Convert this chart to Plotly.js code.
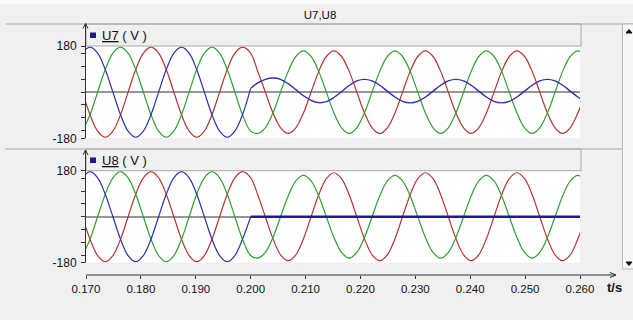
<!DOCTYPE html>
<html>
<head>
<meta charset="utf-8">
<script src="https://cdn.plot.ly/plotly-3.0.1.min.js"></script>
<style>
  html, body { margin: 0; padding: 0; background: #f0f0f0; }
  #chart { width: 633px; height: 320px; }
</style>
</head>
<body>
<div id="chart"></div>
<script>
// ---- data (time in s, voltage in V) ----
const t = [0.16934, 0.17073, 0.17212, 0.17351, 0.17490, 0.17629, 0.17767, 0.17906, 0.18045, 0.18184,
  0.18323, 0.18462, 0.18601, 0.18740, 0.18879, 0.19017, 0.19156, 0.19295, 0.19434, 0.19573,
  0.19712, 0.19851, 0.20000, 0.20129, 0.20267, 0.20406, 0.20545, 0.20684, 0.20823, 0.20962,
  0.21101, 0.21240, 0.21379, 0.21517, 0.21656, 0.21795, 0.21934, 0.22073, 0.22212, 0.22351,
  0.22490, 0.22629, 0.22767, 0.22906, 0.23045, 0.23184, 0.23323, 0.23462, 0.23601, 0.23740,
  0.23879, 0.24017, 0.24156, 0.24295, 0.24434, 0.24573, 0.24712, 0.24851, 0.24990, 0.25129,
  0.25267, 0.25406, 0.25545, 0.25684, 0.25823, 0.25962, 0.26101];

const faultIndex = 22; // sample at t = 0.200 s

// U7 panel
const u7Blue = [152, 176, 152, 88, 0, -88, -152, -176, -152, -88, 0, 88, 152, 176, 152, 88, 0, -88, -152, -176, -152, -88, 15,
  36, 50, 55, 50, 33, 10, -14, -32, -41, -37, -21, 2, 26, 44, 50, 44, 27, 4, -19, -36,
  -42, -36, -19, 4, 27, 44, 50, 44, 27, 4, -19, -36, -42, -36, -19, 4, 27, 44, 50, 44, 27, 4, -19, -36];
const u7Red = [0, -88, -152, -176, -152, -88, 0, 88, 152, 176, 152, 88, 0, -88, -152, -176, -152, -88, 0, 88, 152, 176, 152,
  81, 0, -81, -139, -161, -139, -81, 0, 81, 139, 161, 139,
  81, 0, -81, -139, -161, -139, -81, 0, 81, 139, 161, 139,
  81, 0, -81, -139, -161, -139, -81, 0, 81, 139, 161, 139,
  81, 0, -81, -139, -161, -139, -81, 0];
const u7Green = [-152, -88, 0, 88, 152, 176, 152, 88, 0, -88, -152, -176, -152, -88, 0, 88, 152, 176, 152, 88, 0, -88, -152,
  -161, -139, -81, 0, 81, 139, 161, 139, 81, 0, -81, -139,
  -161, -139, -81, 0, 81, 139, 161, 139, 81, 0, -81, -139,
  -161, -139, -81, 0, 81, 139, 161, 139, 81, 0, -81, -139,
  -161, -139, -81, 0, 81, 139, 161, 139];

// U8 panel
const u8Blue = [152, 176, 152, 88, 0, -88, -152, -176, -152, -88, 0, 88, 152, 176, 152, 88, 0, -88, -152, -176, -152, -88, 0,
  0, 0, 0, 0, 0, 0, 0, 0, 0, 0, 0, 0, 0, 0, 0, 0, 0, 0, 0, 0, 0, 0,
  0, 0, 0, 0, 0, 0, 0, 0, 0, 0, 0, 0, 0, 0, 0, 0, 0, 0, 0, 0, 0, 0];
const u8Red = [0, -88, -152, -176, -152, -88, 0, 88, 152, 176, 152, 88, 0, -88, -152, -176, -152, -88, 0, 88, 152, 176, 152,
  86, 0, -86, -149, -172, -149, -86, 0, 86, 149, 172, 149,
  86, 0, -86, -149, -172, -149, -86, 0, 86, 149, 172, 149,
  86, 0, -86, -149, -172, -149, -86, 0, 86, 149, 172, 149,
  86, 0, -86, -149, -172, -149, -86, 0];
const u8Green = [-152, -88, 0, 88, 152, 176, 152, 88, 0, -88, -152, -176, -152, -88, 0, 88, 152, 176, 152, 88, 0, -88, -152,
  -162, -140, -81, 0, 81, 140, 162, 140, 81, 0, -81, -140,
  -162, -140, -81, 0, 81, 140, 162, 140, 81, 0, -81, -140,
  -162, -140, -81, 0, 81, 140, 162, 140, 81, 0, -81, -140,
  -162, -140, -81, 0, 81, 140, 162, 140];

const xTicks = [0.170, 0.180, 0.190, 0.200, 0.210, 0.220, 0.230, 0.240, 0.250, 0.260];
const xTickText = ['0.170', '0.180', '0.190', '0.200', '0.210', '0.220', '0.230', '0.240', '0.250', '0.260'];
const yTicks = [-180, -150, -100, -50, 0, 50, 100, 150, 180];
const yTickText = ['-180', '', '', '', '', '', '', '', '180'];

// ---- styling ----
const RED = '#b83232', GREEN = '#2ea02e', BLUE = '#2f2fb4', NAVY = '#1c1c8c';
const FONT = 'Liberation Sans, Arial, sans-serif';

function line(x, y, yaxis, color, width) {
  return { x: x, y: y, xaxis: 'x', yaxis: yaxis, type: 'scatter', mode: 'lines',
    line: { color: color, width: width, shape: 'spline', smoothing: 1 }, hoverinfo: 'skip' };
}

const traces = [
  line(t, u7Red, 'y', RED, 1.2),
  line(t, u7Green, 'y', GREEN, 1.2),
  line(t.slice(0, faultIndex + 1), u7Blue.slice(0, faultIndex + 1), 'y', BLUE, 1.2),
  line(t.slice(faultIndex), u7Blue.slice(faultIndex), 'y', BLUE, 1.4),
  line(t, u8Red, 'y2', RED, 1.2),
  line(t, u8Green, 'y2', GREEN, 1.2),
  line(t.slice(0, faultIndex + 1), u8Blue.slice(0, faultIndex + 1), 'y2', BLUE, 1.2),
  line(t.slice(faultIndex), u8Blue.slice(faultIndex), 'y2', NAVY, 2.4)
];

// layout geometry (pixels)
const L = 86, T = 46, W = 494, H = 229;
const px = x => (x - L) / W;
const py = y => (T + H - y) / H;

const GRAY = '#a8a8a8', AX = '#333333';
function seg(x0, y0, x1, y1, color, width) {
  return { type: 'line', xref: 'paper', yref: 'paper', x0: px(x0), y0: py(y0), x1: px(x1), y1: py(y1),
    line: { color: color, width: width } };
}
function box(x0, y0, x1, y1, fill, lineColor, width) {
  return { type: 'rect', xref: 'paper', yref: 'paper', x0: px(x0), y0: py(y0), x1: px(x1), y1: py(y1),
    fillcolor: fill, line: { color: lineColor, width: width } };
}
function path(points, close, fill, color) {
  let d = points.map((p, i) => (i ? 'L' : 'M') + px(p[0]) + ',' + py(p[1])).join(' ');
  if (close) d += ' Z';
  return { type: 'path', xref: 'paper', yref: 'paper', path: d,
    fillcolor: fill, line: { color: color, width: 1 } };
}

const shapes = [
  box(0, 0, 633, 4, '#fbfbfb', 'rgba(0,0,0,0)', 0),
  seg(6, 24, 633, 24, GRAY, 1),
  box(86, 24, 581, 46, 'rgba(0,0,0,0)', GRAY, 1),
  seg(5, 149, 622, 149, GRAY, 1),
  box(86, 149, 581, 170.7, 'rgba(0,0,0,0)', GRAY, 1),
  // y axes with arrows
  seg(85.5, 138.3, 85.5, 23.5, AX, 1),
  path([[83, 28.5], [85.5, 23.5], [88, 28.5]], false, 'rgba(0,0,0,0)', AX),
  seg(85.5, 262.7, 85.5, 150, AX, 1),
  path([[83, 155], [85.5, 150], [88, 155]], false, 'rgba(0,0,0,0)', AX),
  // x axis with arrow
  seg(86, 275, 616, 275, AX, 1),
  path([[610, 272.5], [616, 275], [610, 277.5]], false, 'rgba(0,0,0,0)', AX),
  // scrollbar
  box(622.5, 24, 640, 269, '#f7f7f7', '#b8b8b8', 1),
  path([[626, 33], [629, 29.5], [632, 33]], true, '#111', '#111'),
  path([[626, 262], [632, 262], [629, 265.5]], true, '#111', '#111'),
  // legend squares
  box(90, 32.5, 96, 38, NAVY, NAVY, 0),
  box(90, 157.5, 96, 163, NAVY, NAVY, 0)
];

const annotations = [
  { xref: 'paper', yref: 'paper', x: px(100), y: py(35.5), xanchor: 'left', yanchor: 'middle',
    text: '<u>U7</u> ( V )', showarrow: false, font: { family: FONT, size: 13, color: '#111' } },
  { xref: 'paper', yref: 'paper', x: px(100), y: py(160.5), xanchor: 'left', yanchor: 'middle',
    text: '<u>U8</u> ( V )', showarrow: false, font: { family: FONT, size: 13, color: '#111' } },
  { xref: 'paper', yref: 'paper', x: px(614), y: py(287), xanchor: 'center', yanchor: 'middle',
    text: '<b>t/s</b>', showarrow: false, font: { family: FONT, size: 13, color: '#111' } }
];

function yAxis(domain) {
  return {
    domain: domain, range: [-180, 180], anchor: 'x',
    tickmode: 'array', tickvals: yTicks, ticktext: yTickText,
    ticks: 'outside', ticklen: 4, tickcolor: AX, tickwidth: 1, ticklabelstandoff: 2,
    showline: false, showgrid: false,
    zeroline: true, zerolinecolor: '#969696', zerolinewidth: 1.6,
    tickfont: { family: FONT, size: 12, color: '#111' }, fixedrange: true
  };
}

const layout = {
  width: 633, height: 320,
  margin: { l: L, r: 633 - L - W, t: T, b: 320 - T - H, pad: 0 },
  paper_bgcolor: '#f0f0f0', plot_bgcolor: '#ffffff',
  showlegend: false, hovermode: false,
  title: { text: 'U7,U8', x: 320 / 633, xanchor: 'center', y: 1 - 15 / 320, yanchor: 'middle',
    font: { family: FONT, size: 11.5, color: '#111' } },
  xaxis: {
    range: [0.170, 0.260], anchor: 'free', position: 0,
    tickmode: 'array', tickvals: xTicks, ticktext: xTickText,
    ticks: 'outside', ticklen: 3, tickcolor: AX,
    showline: false, showgrid: false, zeroline: false,
    tickfont: { family: FONT, size: 11.5, color: '#111' }, fixedrange: true
  },
  yaxis: yAxis([(275 - 138.3) / H, 1]),
  yaxis2: yAxis([(275 - 262.7) / H, (275 - 170.7) / H]),
  shapes: shapes,
  annotations: annotations
};

Plotly.newPlot('chart', traces, layout, { staticPlot: true, displayModeBar: false });
</script>
</body>
</html>
